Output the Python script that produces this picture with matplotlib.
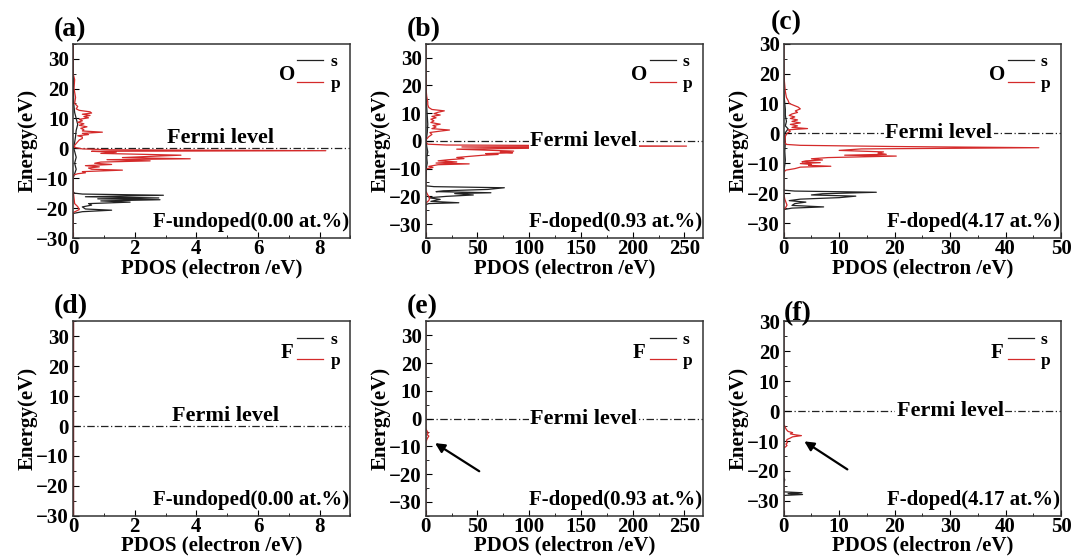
import numpy as np
import matplotlib.pyplot as plt
from matplotlib.ticker import MultipleLocator

plt.rcParams['font.family'] = ['Liberation Serif', 'DejaVu Serif']
plt.rcParams['font.weight'] = 'bold'
plt.rcParams['axes.labelweight'] = 'bold'

# PDOS curves, (energy eV, states) pairs
a_s = [(-30, 0), (-21.8, 0), (-21.2, 0.3), (-20.7, 1.25), (-20.3, 0.4), (-19.6, 0.3), (-19.0, 0.6),
       (-18.5, 0.5), (-18.0, 1.85), (-17.6, 0.9), (-17.2, 2.82), (-16.9, 0.8), (-16.6, 2.78),
       (-16.2, 0.4), (-15.7, 2.93), (-15.3, 0.3), (-15.0, 0.05), (-14.5, 0), (-10, 0), (-8.5, 0.05),
       (-7, 0.1), (-5, 0.05), (-3, 0.1), (-1, 0.05), (0, 0.02), (2, 0.05), (4, 0.08), (6, 0.1),
       (8, 0.15), (10, 0.1), (12, 0.05), (15, 0.02), (20, 0.01), (35, 0)]
a_p = [(-30, 0), (-21.5, 0), (-20.5, 0.2), (-19.5, 0.15), (-18.5, 0.05), (-14, 0), (-9, 0),
       (-8.5, 0.15), (-8.2, 0.4), (-7.8, 0.3), (-7.3, 1.6), (-7.0, 0.6), (-6.6, 0.5), (-6.2, 0.85),
       (-5.8, 0.4), (-5.4, 1.25), (-5.0, 0.7), (-4.6, 0.9), (-4.2, 2.5), (-3.8, 1.1), (-3.5, 3.8),
       (-3.1, 1.6), (-2.7, 2.5), (-2.3, 3.5), (-2.0, 2.2), (-1.7, 0.9), (-1.3, 1.4), (-1.0, 0.6),
       (-0.8, 8.2), (-0.5, 1.2), (-0.2, 0.3), (0.3, 0.05), (1.0, 0.05), (1.6, 0.1), (2.2, 0.15),
       (2.8, 0.2), (3.3, 0.3), (3.8, 0.3), (4.2, 0.15), (4.6, 0.5), (5.0, 0.3), (5.4, 0.95),
       (5.8, 0.3), (6.2, 0.35), (6.7, 0.25), (7.2, 0.45), (7.7, 0.2), (8.2, 0.35), (8.7, 0.15),
       (9.2, 0.3), (9.7, 0.2), (10.2, 0.5), (10.6, 0.35), (11.0, 0.55), (11.4, 0.3), (11.8, 0.6),
       (12.2, 0.55), (12.7, 0.2), (13.2, 0.1), (14, 0.15), (15, 0.05), (17, 0.08), (20, 0.03),
       (23, 0.05), (25, 0), (35, 0)]

b_s = [(-35, 0), (-23, 0), (-22.6, 3), (-22.3, 32), (-21.8, 5), (-21.1, 14), (-20.5, 3),
       (-20.0, 20), (-19.5, 46), (-19.0, 28), (-18.7, 63), (-18.3, 10), (-18.0, 17), (-17.5, 60),
       (-16.9, 76), (-16.5, 8), (-16.2, 0), (-15, 0), (-10, 0.5), (-8, 1.5), (-6, 1), (-4, 2),
       (-2, 1), (0, 0.5), (3, 1.5), (6, 2), (9, 1.5), (12, 1), (15, 0.5), (20, 0.2), (35, 0)]
b_p = [(-35, 0), (-22.5, 0), (-21.5, 3), (-20.5, 4), (-19.5, 2), (-18, 0), (-11, 0), (-10, 1),
       (-9.6, 7), (-9.2, 3), (-8.6, 12), (-8.3, 42), (-8.0, 10), (-7.6, 30), (-7.2, 12), (-6.8, 22),
       (-6.4, 37), (-6.0, 30), (-5.6, 42), (-5.2, 55), (-4.9, 70), (-4.6, 58), (-4.3, 84),
       (-4.0, 72), (-3.7, 85), (-3.4, 62), (-3.0, 30), (-2.6, 118), (-2.2, 35), (-1.9, 252),
       (-1.5, 20), (-1.2, 2), (-0.5, 0.5), (0.5, 0.5), (1.5, 3), (2.3, 6), (3.0, 4), (3.5, 14),
       (3.9, 23), (4.4, 6), (5.0, 10), (5.5, 7), (6.0, 14), (6.6, 5), (7.2, 8), (7.8, 5), (8.3, 10),
       (8.8, 6), (9.3, 14), (9.8, 8), (10.3, 12), (10.8, 18), (11.3, 6), (12, 3), (13, 2), (14, 2),
       (16, 1), (18, 0.5), (20, 0.3), (25, 0.1), (35, 0)]

c_s = [(-35, 0), (-25.5, 0), (-25.0, 1.5), (-24.6, 7.2), (-24.1, 1.5), (-23.5, 2), (-23.0, 4),
       (-22.5, 1), (-22.0, 3), (-21.5, 10), (-21.0, 13), (-20.6, 5), (-20.2, 7), (-19.7, 16.7),
       (-19.3, 2), (-19.0, 0), (-15, 0), (-12, 0.1), (-9, 0.3), (-6, 0.2), (-3, 0.3), (0, 0.2),
       (1.5, 0.8), (2.5, 0.3), (4, 0.5), (6, 0.3), (8, 0.3), (10, 0.2), (12, 0.1), (15, 0), (35, 0)]
c_p = [(-35, 0), (-25.5, 0), (-25, 0.3), (-24, 0.6), (-23, 0.4), (-22, 0.2), (-20, 0), (-13, 0),
       (-12.3, 0.4), (-11.8, 2), (-11.3, 3), (-11.0, 8.5), (-10.7, 4.5), (-10.4, 5), (-10.1, 3),
       (-9.8, 6.6), (-9.5, 3.3), (-9.2, 4), (-8.9, 7), (-8.5, 5), (-8.1, 8), (-7.6, 20.3),
       (-7.3, 11), (-7.0, 18.5), (-6.6, 17), (-6.2, 18), (-5.7, 10), (-5.2, 14), (-4.8, 46),
       (-4.4, 20), (-4.0, 3), (-3.7, 0.5), (-3, 0.2), (-1, 0.3), (0, 0.6), (0.7, 1.2), (1.2, 0.8),
       (1.6, 4.3), (2.0, 1.5), (2.5, 2.5), (3.0, 1.2), (3.5, 3), (4.0, 1.5), (4.5, 2.5), (5.0, 1.2),
       (5.5, 2), (6.0, 1), (6.5, 1.5), (7.0, 2.5), (7.5, 2.1), (8.2, 3.0), (8.8, 2.6), (9.4, 1.8),
       (10, 1), (11, 0.8), (12, 0.5), (14, 0.3), (16, 0.2), (18, 0.1), (20, 0.05), (35, 0)]

d_s = [(-30, 0), (35, 0)]
d_p = [(-30, 0), (35, 0)]

e_s = [(-35, 0), (-26, 0), (-25.5, 0.8), (-25, 0), (35, 0)]
e_p = [(-35, 0), (-9, 0), (-8.3, 0.5), (-7.6, 1), (-7, 1.8), (-6.3, 3), (-5.7, 1.2), (-5.2, 2.5),
       (-4.6, 1.5), (-4, 0.6), (-3.5, 0), (35, 0)]

f_s = [(-35, 0), (-28.2, 0), (-27.9, 3.4), (-27.6, 0.8), (-27.3, 3.3), (-27.0, 0), (-24, 0),
       (-23, 0.2), (-22, 0), (35, 0)]
f_p = [(-35, 0), (-12.3, 0), (-12, 0.3), (-11.5, 0.6), (-11, 0.4), (-10.5, 0.7), (-10, 0.5),
       (-9.5, 0.6), (-9, 1.2), (-8.6, 1.6), (-8.2, 3.2), (-7.9, 2.0), (-7.6, 1.2), (-7.2, 1.6),
       (-6.8, 0.8), (-6.2, 0.5), (-5.5, 0.3), (-5, 0.2), (-4.5, 0), (35, 0)]

panel_tags = ['(a)', '(b)', '(c)', '(d)', '(e)', '(f)']
elements = ['O', 'O', 'O', 'F', 'F', 'F']
doping = ['F-undoped(0.00 at.%)', 'F-doped(0.93 at.%)', 'F-doped(4.17 at.%)'] * 2
s_curves = [a_s, b_s, c_s, d_s, e_s, f_s]
p_curves = [a_p, b_p, c_p, d_p, e_p, f_p]
xlims = [(0, 9), (0, 268), (0, 50)] * 2
xsteps = [2, 50, 10] * 2
ylims = [(-30, 35), (-35, 35), (-35, 30)] * 2

# arrows in (e) and (f): (tail x, tail E, head x, head E)
arrows = {4: (54, -19.5, 6.8, -8.3), 5: (11.9, -20, 3.3, -9.6)}

fig = plt.figure(figsize=(10.75, 5.6), dpi=100)
lefts = [0.068, 0.396, 0.729]
bottoms = [0.575, 0.079]
tag_pos = [(-0.07, 1.01), (-0.07, 1.01), (-0.045, 1.045),
           (-0.07, 1.01), (-0.07, 1.01), (0.0, 0.975)]
fermi_x = [0.53, 0.57, 0.56, 0.55, 0.57, 0.60]

red = '#d42a2a'
for i in range(6):
    ax = fig.add_axes([lefts[i % 3], bottoms[i // 3], 0.258, 0.347])
    s = np.array(s_curves[i]).T
    p = np.array(p_curves[i]).T
    ax.plot(s[1], s[0], color='#222222', lw=0.9, label='s')
    ax.plot(p[1], p[0], color=red, lw=0.9, label='p')
    ax.axhline(0, color='#222222', lw=0.9, ls=(0, (6, 2, 1, 2)), zorder=1)

    ax.set_xlim(*xlims[i])
    ax.set_ylim(*ylims[i])
    ax.xaxis.set_major_locator(MultipleLocator(xsteps[i]))
    ax.xaxis.set_minor_locator(MultipleLocator(xsteps[i] / 2))
    ax.yaxis.set_major_locator(MultipleLocator(10))
    ax.yaxis.set_minor_locator(MultipleLocator(5))
    ax.tick_params(which='both', direction='in', labelsize=15, pad=3)
    ax.tick_params(axis='x', pad=1)
    ax.tick_params(which='major', length=4)
    ax.tick_params(which='minor', length=2.5)
    for sp in ax.spines.values():
        sp.set_color('#333333')
        sp.set_linewidth(1.1)

    ax.set_xlabel('PDOS (electron /eV)', fontsize=15, labelpad=-1)
    ax.set_ylabel('Energy(eV)', fontsize=15, labelpad=-1)

    ax.legend(loc='upper right', frameon=False, fontsize=12.5, handlelength=1.5,
              handletextpad=0.4, labelspacing=0.3, borderaxespad=0.2)
    ax.text(0.77, 0.84, elements[i], transform=ax.transAxes, fontsize=15,
            ha='center', va='center')
    ax.text(0.995, 0.03, doping[i], transform=ax.transAxes, fontsize=15,
            ha='right', va='bottom')
    if i % 3 == 0:
        ax.text(fermi_x[i], 0.0, 'Fermi level', transform=ax.get_yaxis_transform(),
                fontsize=16, ha='center', va='bottom')
    else:
        ax.text(fermi_x[i], 0.0, 'Fermi level', transform=ax.get_yaxis_transform(),
                fontsize=16, ha='center', va='center',
                bbox=dict(facecolor='white', edgecolor='none', pad=1))
    ax.text(tag_pos[i][0], tag_pos[i][1], panel_tags[i], fontsize=20,
            transform=ax.transAxes, ha='left', va='bottom')

    if i in arrows:
        tx, ty, hx, hy = arrows[i]
        ax.annotate('', xy=(hx, hy), xytext=(tx, ty),
                    arrowprops=dict(arrowstyle='-|>', color='black', lw=1.6,
                                    mutation_scale=14))

fig.savefig('out.png', dpi=100)
